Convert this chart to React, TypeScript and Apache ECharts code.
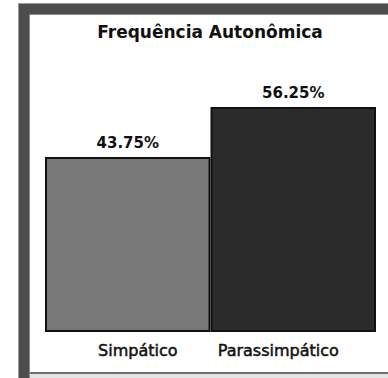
import React, { useEffect, useRef } from "react";
import * as echarts from "echarts";

const chartTitle = "Frequência Autonômica";
const categories = ["Simpático", "Parassimpático"];
const percentages = [43.75, 56.25];
const barColors = ["#787878", "#2b2b2b"];

export default function App() {
  const ref = useRef<HTMLDivElement>(null);

  useEffect(() => {
    if (!ref.current) return;
    const chart = echarts.init(ref.current, undefined, { renderer: "svg" });
    const font = "'DejaVu Sans', Verdana, sans-serif";

    chart.setOption({
      animation: false,
      backgroundColor: "#ffffff",
      graphic: [
        // beveled frame around the panel
        { type: "rect", z: -10, shape: { x: 18, y: 3, width: 12, height: 375 }, style: { fill: "#4d4d4d" } },
        { type: "rect", z: -10, shape: { x: 18, y: 3, width: 370, height: 12 }, style: { fill: "#4d4d4d" } },
        { type: "rect", z: -9, shape: { x: 18, y: 3, width: 370, height: 1 }, style: { fill: "#9a9a9a" } },
        { type: "rect", z: -9, shape: { x: 18, y: 3, width: 1, height: 375 }, style: { fill: "#9a9a9a" } },
        { type: "rect", z: -9, shape: { x: 29, y: 14, width: 359, height: 1 }, style: { fill: "#8a8a8a" } },
        { type: "rect", z: -9, shape: { x: 29, y: 14, width: 1, height: 364 }, style: { fill: "#8a8a8a" } },
        { type: "rect", z: -10, shape: { x: 30, y: 372, width: 358, height: 2 }, style: { fill: "#6e6e6e" } },
        { type: "rect", z: -10, shape: { x: 30, y: 374, width: 358, height: 4 }, style: { fill: "#e4e4e4" } },
        {
          type: "text",
          x: 210,
          y: 23,
          style: {
            text: chartTitle,
            fill: "#111",
            font: `bold 17px ${font}`,
            textAlign: "center",
            textVerticalAlign: "top",
          },
        },
      ],
      grid: { left: 45, right: 12, top: 92, bottom: 46 },
      xAxis: {
        type: "category",
        data: [
          { value: categories[0], textStyle: { padding: [0, 0, 0, 20] } },
          { value: categories[1], textStyle: { padding: [0, 30, 0, 0] } },
        ],
        axisLine: { show: false },
        axisTick: { show: false },
        axisLabel: {
          margin: 10,
          color: "#111",
          fontFamily: font,
          fontSize: 16,
          textBorderColor: "#111",
          textBorderWidth: 0.5,
        },
      },
      yAxis: {
        type: "value",
        min: 0,
        max: 60,
        show: false,
        splitLine: { show: false },
      },
      series: [
        {
          type: "bar",
          barCategoryGap: "0%",
          data: percentages.map((v, i) => ({
            value: v,
            itemStyle: { color: barColors[i] },
          })),
          itemStyle: { borderColor: "#111", borderWidth: 2 },
          label: {
            show: true,
            position: "top",
            distance: 7,
            color: "#111",
            fontFamily: font,
            fontWeight: "bold",
            fontSize: 15,
            formatter: (p: any) => `${Number(p.value).toFixed(2)}%`,
          },
        },
      ],
    });

    return () => chart.dispose();
  }, []);

  return (
    <div
      ref={ref}
      style={{ position: "fixed", left: 0, top: 0, width: 388, height: 378 }}
    />
  );
}
